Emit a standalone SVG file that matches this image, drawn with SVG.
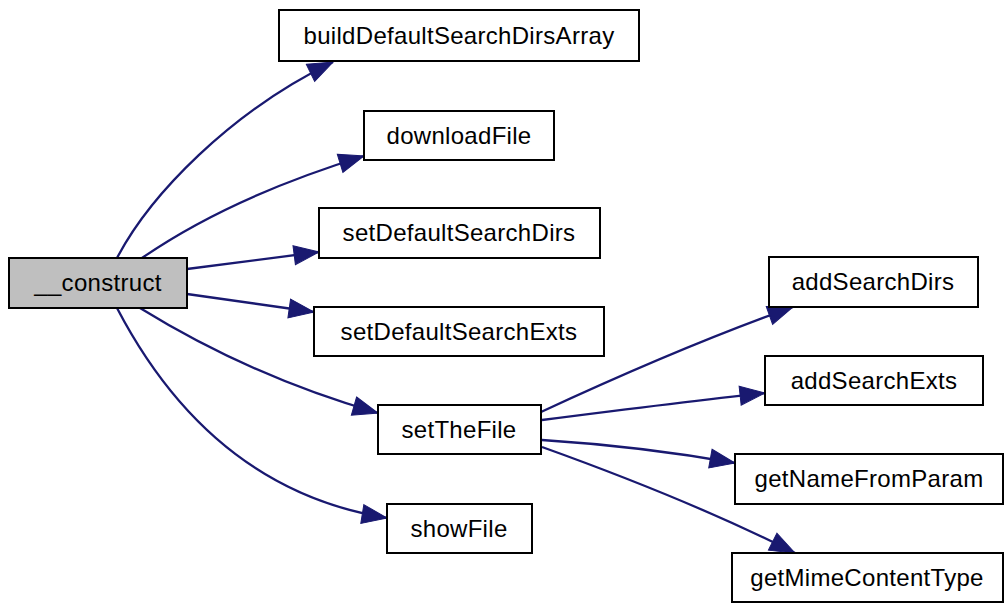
<svg xmlns="http://www.w3.org/2000/svg" width="1005" height="603" viewBox="0 0 1005 603">
<style>
.box{fill:#ffffff;stroke:#000000;stroke-width:2}
.root{fill:#bfbfbf;stroke:#000000;stroke-width:2}
.lbl{font-family:"Liberation Sans",Arial,sans-serif;font-size:24px;letter-spacing:0.3px;fill:#000000;text-anchor:middle}
.edge{fill:none;stroke:#191970;stroke-width:2.3;marker-end:url(#arr)}
</style>
<defs>
<marker id="arr" markerUnits="userSpaceOnUse" markerWidth="28" markerHeight="22" viewBox="0 0 28 22" refX="26" refY="11" orient="auto">
<path d="M1,1.5 L26,11 L1,20.5 Z" fill="#191970" stroke="#191970" stroke-width="1"/>
</marker>
</defs>
<rect width="1005" height="603" fill="#ffffff"/>
<g id="connectors">
<path class="edge" d="M117,258 C150,195 230,112 333,62"/>
<path class="edge" d="M142,258 C200,218 270,185 364,156"/>
<path class="edge" d="M187,269 L319,252"/>
<path class="edge" d="M187,294 L314,312"/>
<path class="edge" d="M140,308 C200,345 280,385 378,413"/>
<path class="edge" d="M117,308 C165,400 245,495 387,518"/>
<path class="edge" d="M541,412 C610,380 700,340 793,307"/>
<path class="edge" d="M542,420 C620,410 700,400 765,393"/>
<path class="edge" d="M542,440 C620,445 690,455 735,463"/>
<path class="edge" d="M542,447 C620,475 710,510 795,553"/>
</g>
<g id="n_construct"><rect class="root" x="9" y="258" width="178" height="50"/><text class="lbl" x="98" y="291">__construct</text></g>
<g id="n_buildDefaultSearchDirsArray"><rect class="box" x="279" y="10" width="360" height="51"/><text class="lbl" x="459" y="44">buildDefaultSearchDirsArray</text></g>
<g id="n_downloadFile"><rect class="box" x="364" y="111" width="190" height="49"/><text class="lbl" x="459" y="144">downloadFile</text></g>
<g id="n_setDefaultSearchDirs"><rect class="box" x="319" y="208" width="281" height="50"/><text class="lbl" x="459" y="241">setDefaultSearchDirs</text></g>
<g id="n_setDefaultSearchExts"><rect class="box" x="314" y="307" width="290" height="49"/><text class="lbl" x="459" y="340">setDefaultSearchExts</text></g>
<g id="n_setTheFile"><rect class="box" x="378" y="405" width="163" height="49"/><text class="lbl" x="459" y="438">setTheFile</text></g>
<g id="n_showFile"><rect class="box" x="387" y="504" width="145" height="49"/><text class="lbl" x="459" y="537">showFile</text></g>
<g id="n_addSearchDirs"><rect class="box" x="769" y="257" width="209" height="50"/><text class="lbl" x="873" y="290">addSearchDirs</text></g>
<g id="n_addSearchExts"><rect class="box" x="765" y="356" width="218" height="49"/><text class="lbl" x="874" y="389">addSearchExts</text></g>
<g id="n_getNameFromParam"><rect class="box" x="735" y="454" width="268" height="50"/><text class="lbl" x="869" y="487">getNameFromParam</text></g>
<g id="n_getMimeContentType"><rect class="box" x="732" y="553" width="271" height="49"/><text class="lbl" x="867" y="586">getMimeContentType</text></g>
</svg>
